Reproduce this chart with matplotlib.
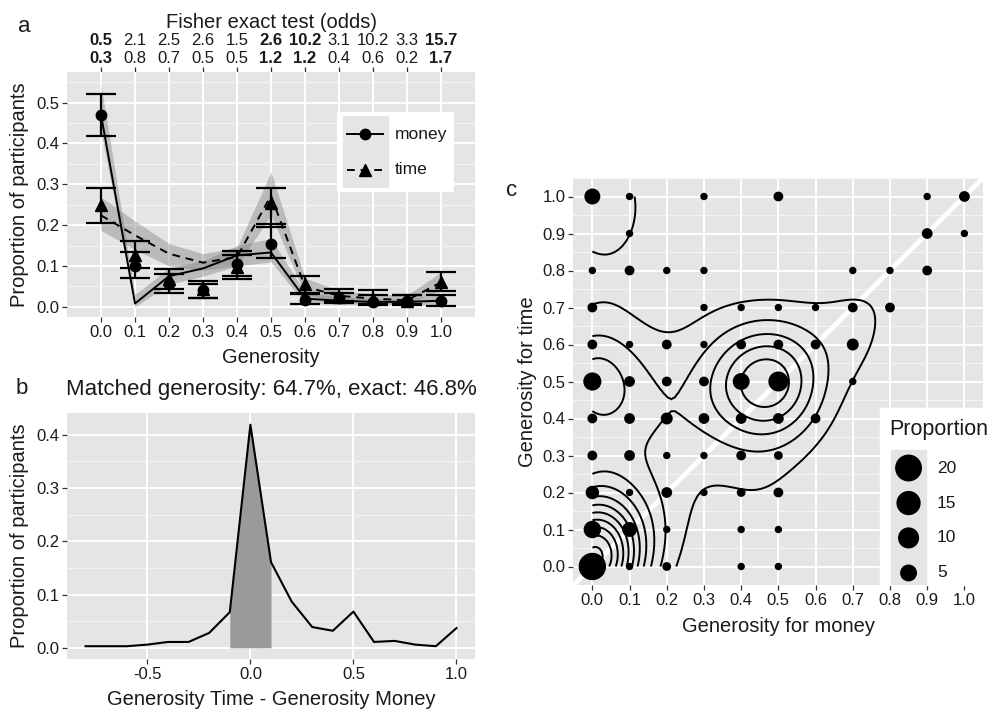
import numpy as np
import matplotlib.pyplot as plt
from matplotlib.ticker import MaxNLocator, MultipleLocator
from matplotlib.lines import Line2D
from matplotlib.patches import Rectangle

plt.rcParams['font.family'] = ['Liberation Sans', 'DejaVu Sans']

# ---- panel a: share of participants per generosity level ----
gen = np.array([0.0, 0.1, 0.2, 0.3, 0.4, 0.5, 0.6, 0.7, 0.8, 0.9, 1.0])
money_prop = np.array([0.469, 0.100, 0.057, 0.040, 0.106, 0.155, 0.016, 0.022, 0.012, 0.015, 0.015])
money_lo = np.array([0.418, 0.071, 0.034, 0.022, 0.076, 0.120, 0.006, 0.010, 0.004, 0.005, 0.003])
money_hi = np.array([0.520, 0.133, 0.080, 0.057, 0.136, 0.202, 0.031, 0.035, 0.030, 0.029, 0.030])
time_prop = np.array([0.250, 0.128, 0.068, 0.043, 0.098, 0.253, 0.057, 0.025, 0.020, 0.015, 0.061])
time_lo = np.array([0.206, 0.095, 0.044, 0.022, 0.067, 0.196, 0.033, 0.015, 0.006, 0.007, 0.038])
time_hi = np.array([0.292, 0.161, 0.092, 0.063, 0.126, 0.290, 0.075, 0.044, 0.041, 0.029, 0.085])

# fitted curves with their bands
money_fit = np.array([0.470, 0.008, 0.075, 0.094, 0.126, 0.133, 0.020, 0.015, 0.012, 0.012, 0.015])
money_band_lo = np.array([0.430, 0.000, 0.055, 0.075, 0.100, 0.110, 0.008, 0.007, 0.005, 0.005, 0.005])
money_band_hi = np.array([0.545, 0.030, 0.095, 0.112, 0.150, 0.167, 0.035, 0.025, 0.020, 0.020, 0.030])
time_fit = np.array([0.224, 0.175, 0.130, 0.108, 0.122, 0.272, 0.049, 0.027, 0.020, 0.016, 0.060])
time_band_lo = np.array([0.187, 0.140, 0.100, 0.090, 0.100, 0.225, 0.030, 0.012, 0.010, 0.008, 0.040])
time_band_hi = np.array([0.269, 0.210, 0.155, 0.130, 0.145, 0.330, 0.070, 0.040, 0.032, 0.028, 0.085])

# Fisher exact test odds, two rows, bold = significant
fisher_top = [0.5, 2.1, 2.5, 2.6, 1.5, 2.6, 10.2, 3.1, 10.2, 3.3, 15.7]
fisher_bottom = [0.3, 0.8, 0.7, 0.5, 0.5, 1.2, 1.2, 0.4, 0.6, 0.2, 1.7]
fisher_bold = [True, False, False, False, False, True, True, False, False, False, True]

# ---- panel b: difference time - money ----
diff = np.array([-0.8, -0.7, -0.6, -0.5, -0.4, -0.3, -0.2, -0.1, 0.0, 0.1,
                 0.2, 0.3, 0.4, 0.5, 0.6, 0.7, 0.8, 0.9, 1.0])
diff_prop = np.array([0.003, 0.003, 0.003, 0.006, 0.011, 0.011, 0.028, 0.067, 0.419, 0.161,
                      0.087, 0.039, 0.032, 0.068, 0.011, 0.013, 0.006, 0.003, 0.037])

# ---- panel c: joint distribution (percent of participants) ----
pts_money = np.array([0.0, 0.1, 0.3, 0.5, 0.9, 1.0,
                      0.1, 0.9, 1.0,
                      0.0, 0.1, 0.2, 0.3, 0.7, 0.8, 0.9,
                      0.0, 0.3, 0.4, 0.5, 0.6, 0.7, 0.8,
                      0.0, 0.1, 0.2, 0.3, 0.4, 0.5, 0.6, 0.7,
                      0.0, 0.1, 0.2, 0.3, 0.4, 0.5, 0.7,
                      0.0, 0.1, 0.2, 0.3, 0.4, 0.5, 0.6,
                      0.0, 0.1, 0.2, 0.3, 0.4, 0.5,
                      0.0, 0.1, 0.2, 0.3, 0.4, 0.5,
                      0.0, 0.1, 0.2, 0.4, 0.5,
                      0.0, 0.1, 0.2, 0.4, 0.5])
pts_time = np.array([1.0] * 6 + [0.9] * 3 + [0.8] * 7 + [0.7] * 7 + [0.6] * 8 + [0.5] * 7
                    + [0.4] * 7 + [0.3] * 6 + [0.2] * 6 + [0.1] * 5 + [0.0] * 5)
pts_prop = np.array([4.1, 0.3, 0.3, 0.6, 0.3, 0.9,
                     0.3, 0.9, 0.3,
                     0.3, 0.6, 0.3, 0.3, 0.3, 0.3, 0.6,
                     0.6, 0.3, 0.3, 0.3, 0.3, 0.6, 0.6,
                     0.6, 0.3, 0.6, 0.3, 0.6, 0.6, 0.6, 1.4,
                     6.3, 0.9, 0.6, 0.6, 5.0, 8.5, 0.3,
                     0.6, 0.9, 1.4, 0.9, 0.9, 0.9, 0.6,
                     0.6, 0.9, 0.3, 0.3, 0.6, 0.4,
                     2.2, 0.3, 0.9, 0.3, 0.4, 0.6,
                     5.5, 3.2, 0.3, 0.3, 0.3,
                     21.0, 0.3, 0.4, 0.3, 0.3])
legend_sizes = [20, 15, 10, 5]
n_participants = 380

BG = '#e5e5e5'
TXT = '#1a1a1a'
W, H = 999, 712


def px_rect(x0, y0, x1, y1):
    # pixel box (top-left origin) -> figure fraction
    return [x0 / W, 1 - y1 / H, (x1 - x0) / W, (y1 - y0) / H]


def gg_style(ax, minor_y):
    ax.set_facecolor(BG)
    for s in ax.spines.values():
        s.set_visible(False)
    ax.set_axisbelow(True)
    ax.yaxis.set_minor_locator(MultipleLocator(minor_y))
    ax.grid(True, which='major', color='white', lw=1.4)
    ax.grid(True, which='minor', axis='y', color='#f5f5f5', lw=0.7)
    ax.tick_params(which='major', length=3.5, width=0.9, color='#333333',
                   labelsize=12, labelcolor=TXT, pad=2)
    ax.tick_params(which='minor', length=0)


def dot_size(v, vmin, vmax):
    d_px = 7.4 + 20 * np.sqrt((np.asarray(v) - vmin) / (vmax - vmin))
    return (d_px * 0.72) ** 2


def nrd_sd(v, w, n):
    # like MASS::bandwidth.nrd / 4, with weights
    order = np.argsort(v, kind='stable')
    cw = np.cumsum(w[order]) / w.sum()
    q1 = v[order][np.searchsorted(cw, 0.25)]
    q3 = v[order][np.searchsorted(cw, 0.75)]
    m = np.average(v, weights=w)
    sd = np.sqrt(np.average((v - m) ** 2, weights=w))
    return 1.06 * min(sd, (q3 - q1) / 1.34) * n ** -0.2


def density_grid(x, y, w, n_obs, n_grid=100):
    gx = np.linspace(x.min(), x.max(), n_grid)
    gy = np.linspace(y.min(), y.max(), n_grid)
    hx, hy = nrd_sd(x, w, n_obs), nrd_sd(y, w, n_obs)
    kx = np.exp(-0.5 * ((gx[:, None] - x[None, :]) / hx) ** 2) / hx
    ky = np.exp(-0.5 * ((gy[:, None] - y[None, :]) / hy) ** 2) / hy
    z = (ky * w) @ kx.T / (2 * np.pi * w.sum())
    return gx, gy, z


fig = plt.figure(figsize=(9.99, 7.12), dpi=100)

# ================= panel a =================
ax = fig.add_axes(px_rect(67, 72, 475, 317))
gg_style(ax, 0.05)
ax.fill_between(gen, money_band_lo, money_band_hi, color='#7a7a7a', alpha=0.4, lw=0, zorder=2)
ax.fill_between(gen, time_band_lo, time_band_hi, color='#7a7a7a', alpha=0.4, lw=0, zorder=2)
ax.plot(gen, money_fit, color='black', lw=1.4, zorder=3)
ax.plot(gen, time_fit, color='black', lw=1.4, dashes=(4, 3), zorder=3)
ax.errorbar(gen, money_prop, yerr=[money_prop - money_lo, money_hi - money_prop],
            fmt='o', color='black', ms=7.5, capsize=11, capthick=1.6, elinewidth=1.6, zorder=4)
ax.errorbar(gen, time_prop, yerr=[time_prop - time_lo, time_hi - time_prop],
            fmt='^', color='black', ms=8.5, capsize=11, capthick=1.6, elinewidth=1.6, zorder=4)
ax.set_xlim(-0.1, 1.1)
ax.set_ylim(-0.025, 0.575)
ax.set_xticks(gen, [f'{g:.1f}' for g in gen])
ax.set_yticks([0.0, 0.1, 0.2, 0.3, 0.4, 0.5])
ax.set_yticklabels(['0.0', '0.1', '0.2', '0.3', '0.4', '0.5'])
ax.set_xlabel('Generosity', fontsize=14.5, color=TXT, labelpad=6)
ax.set_ylabel('Proportion of participants', fontsize=14.5, color=TXT, labelpad=5)

top = ax.secondary_xaxis('top')
top.set_xticks(gen, [f'{a:.1f}\n{b:.1f}' for a, b in zip(fisher_top, fisher_bottom)])
for lab, bold in zip(top.get_xticklabels(), fisher_bold):
    lab.set_fontweight('bold' if bold else 'normal')
    lab.set_linespacing(1.25)
top.tick_params(length=3.5, width=0.9, color='#333333', labelsize=12, labelcolor=TXT, pad=0.5)
for s in top.spines.values():
    s.set_visible(False)
top.set_xlabel('Fisher exact test (odds)', fontsize=14.5, color=TXT, labelpad=4)

# legend for a
lg = fig.add_axes(px_rect(337, 112, 454, 192))
lg.set_xlim(0, 1)
lg.set_ylim(0, 1)
lg.axis('off')
lg.add_patch(Rectangle((0, 0), 1, 1, color='white'))
lg.add_patch(Rectangle((0.051, 0.06), 0.385, 0.89, color=BG))
lg.add_line(Line2D([0.085, 0.393], [0.725, 0.725], color='black', lw=1.4))
lg.add_line(Line2D([0.24], [0.725], marker='o', ms=7.5, color='black'))
lg.add_line(Line2D([0.085, 0.393], [0.275, 0.275], color='black', lw=1.4, dashes=(4, 3)))
lg.add_line(Line2D([0.24], [0.275], marker='^', ms=8.5, color='black'))
lg.text(0.49, 0.725, 'money', fontsize=12.5, va='center', color=TXT)
lg.text(0.49, 0.275, 'time', fontsize=12.5, va='center', color=TXT)

# ================= panel b =================
bx = fig.add_axes(px_rect(67, 413, 475, 659))
gg_style(bx, 0.05)
inside = np.abs(diff) <= 0.1 + 1e-9
bx.fill_between(diff, 0, diff_prop, where=inside, color='#9a9a9a', lw=0, zorder=2)
bx.plot(diff, diff_prop, color='black', lw=1.5, zorder=3)
bx.set_xlim(-0.89, 1.09)
bx.set_ylim(-0.021, 0.441)
bx.set_xticks([-0.5, 0.0, 0.5, 1.0], ['-0.5', '0.0', '0.5', '1.0'])
bx.set_yticks([0.0, 0.1, 0.2, 0.3, 0.4], ['0.0', '0.1', '0.2', '0.3', '0.4'])
bx.set_xlabel('Generosity Time - Generosity Money', fontsize=14.5, color=TXT, labelpad=6)
bx.set_ylabel('Proportion of participants', fontsize=14.5, color=TXT, labelpad=5)
bx.set_title('Matched generosity: 64.7%, exact: 46.8%', fontsize=16, color=TXT, pad=13)

# ================= panel c =================
cx = fig.add_axes(px_rect(573, 178, 983, 585))
gg_style(cx, 0.05)
cx.axline((0, 0), slope=1, color='white', lw=3.5, zorder=1)
gx, gy, z = density_grid(pts_money, pts_time, pts_prop, n_participants)
levels = MaxNLocator(16, steps=[1, 2, 2.5, 5, 10]).tick_values(z.min(), z.max())
levels = levels[(levels > z.min()) & (levels < z.max())]
cx.contour(gx, gy, z, levels=levels, colors='black', linewidths=1.4, zorder=2)
vmin, vmax = pts_prop.min(), pts_prop.max()
cx.scatter(pts_money, pts_time, s=dot_size(pts_prop, vmin, vmax), color='black', lw=0, zorder=3)
ticks = np.round(np.arange(0, 1.01, 0.1), 1)
cx.set_xticks(ticks, [f'{t:.1f}' for t in ticks])
cx.set_yticks(ticks, [f'{t:.1f}' for t in ticks])
cx.set_xlim(-0.052, 1.05)
cx.set_ylim(-0.05, 1.05)
cx.set_xlabel('Generosity for money', fontsize=14.5, color=TXT, labelpad=7)
cx.set_ylabel('Generosity for time', fontsize=14.5, color=TXT, labelpad=4)

# size legend for c
sl = fig.add_axes(px_rect(880, 408, 999, 585))
sl.set_xlim(0, 1)
sl.set_ylim(0, 1)
sl.axis('off')
sl.add_patch(Rectangle((0, 0), 1, 1, color='white', clip_on=False))
sl.add_patch(Rectangle((0.092, 0.0), 0.295, 0.763, color=BG))
key_y = [0.661, 0.463, 0.266, 0.068]
sl.scatter([0.24] * 4, key_y, s=dot_size(legend_sizes, vmin, vmax), color='black', lw=0)
for yv, v in zip(key_y, legend_sizes):
    sl.text(0.479, yv, str(v), fontsize=12.5, va='center', color=TXT)
sl.text(0.075, 0.876, 'Proportion', fontsize=15.5, va='center', color=TXT)

# panel letters
fig.text(24 / W, 1 - 26 / H, 'a', fontsize=16, ha='center', va='center', color=TXT)
fig.text(22 / W, 1 - 389 / H, 'b', fontsize=16, ha='center', va='center', color=TXT)
fig.text(512 / W, 1 - 190 / H, 'c', fontsize=16, ha='center', va='center', color=TXT)

fig.savefig('out.png', dpi=100, facecolor='white')
